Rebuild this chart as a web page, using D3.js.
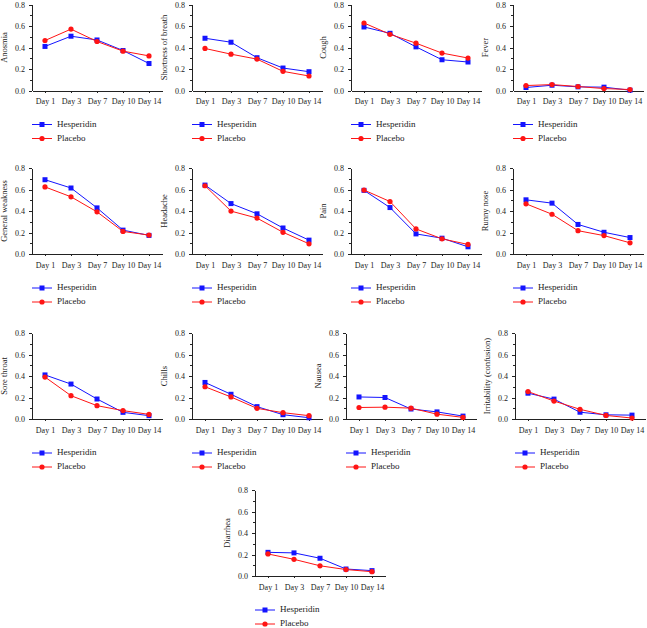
<!DOCTYPE html>
<html>
<head>
<meta charset="utf-8">
<script src="https://cdn.jsdelivr.net/npm/d3@7"></script>
<style>
  html, body { margin: 0; padding: 0; background: #fff; }
  svg, svg text { font-family: "Liberation Serif", "DejaVu Serif", serif; }
  svg { display: block; }
  .axis path, .axis line { stroke: #222; stroke-width: 1; shape-rendering: crispEdges; }
  .axis text { fill: #222; font-size: 8px; font-family: "Liberation Serif", serif; }
</style>
</head>
<body>
<svg id="chart" width="647" height="628"></svg>
<script>
// ---- Data ----
const days = ["Day 1", "Day 3", "Day 7", "Day 10", "Day 14"];
const symptoms = ["Anosmia", "Shortness of breath", "Cough", "Fever",
  "General weakness", "Headache", "Pain", "Runny nose",
  "Sore throat", "Chills", "Nausea", "Irritability (confusion)", "Diarrhea"];
const seriesNames = ["Hesperidin", "Placebo"];
const hesperidin = [
  [0.41, 0.505, 0.47, 0.372, 0.251],
  [0.486, 0.449, 0.305, 0.209, 0.175],
  [0.591, 0.532, 0.406, 0.286, 0.265],
  [0.028, 0.049, 0.034, 0.031, 0.003],
  [0.691, 0.614, 0.429, 0.222, 0.173],
  [0.641, 0.469, 0.374, 0.242, 0.129],
  [0.592, 0.432, 0.187, 0.147, 0.067],
  [0.504, 0.473, 0.275, 0.202, 0.153],
  [0.41, 0.325, 0.186, 0.062, 0.031],
  [0.34, 0.23, 0.115, 0.04, 0.012],
  [0.205, 0.2, 0.093, 0.066, 0.027],
  [0.24, 0.185, 0.063, 0.039, 0.036],
  [0.22, 0.215, 0.165, 0.065, 0.05]
];
const placebo = [
  [0.465, 0.571, 0.456, 0.366, 0.322],
  [0.391, 0.338, 0.292, 0.178, 0.135],
  [0.628, 0.523, 0.44, 0.348, 0.302],
  [0.046, 0.055, 0.037, 0.018, 0.009],
  [0.624, 0.532, 0.392, 0.21, 0.176],
  [0.635, 0.399, 0.334, 0.202, 0.095],
  [0.595, 0.488, 0.233, 0.141, 0.089],
  [0.467, 0.37, 0.217, 0.171, 0.104],
  [0.39, 0.217, 0.124, 0.078, 0.043],
  [0.30, 0.205, 0.099, 0.059, 0.031],
  [0.107, 0.11, 0.101, 0.045, 0.015],
  [0.255, 0.167, 0.09, 0.033, 0.009],
  [0.205, 0.155, 0.095, 0.06, 0.04]
];
const yTicks = [0, 0.2, 0.4, 0.6, 0.8];
const yMinorTicks = [0.1, 0.3, 0.5, 0.7];

// ---- Layout (positions only) ----
const panelPos = [
  [32, 4.5], [192, 4.5], [351, 4.5], [513, 4.5],
  [32, 168], [192, 168], [351, 168], [513, 168],
  [32, 333], [192, 333], [346, 333], [515, 333],
  [255, 490]
];
const plotW = 130, plotH = 86;
const colors = ["#1414ff", "#ff1414"];
const FONT = "Liberation Serif, serif";

const svg = d3.select("#chart");
const x = d3.scalePoint().domain(days).range([0, plotW]).padding(0.5);
const y = d3.scaleLinear().domain([0, 0.8]).range([plotH, 0]);

symptoms.forEach((name, i) => {
  const [px, py] = panelPos[i];
  const g = svg.append("g").attr("transform", `translate(${px},${py})`);

  // y axis (major + minor)
  g.append("g").attr("class", "axis")
    .call(d3.axisLeft(y).tickValues(yTicks).tickFormat(d3.format(".1f")).tickSize(3).tickSizeOuter(0).tickPadding(4))
    .attr("font-family", FONT);
  g.append("g").attr("class", "axis")
    .call(d3.axisLeft(y).tickValues(yMinorTicks).tickFormat("").tickSize(2).tickSizeOuter(0))
    .select(".domain").remove();

  // x axis
  g.append("g").attr("class", "axis")
    .attr("transform", `translate(0,${plotH})`)
    .call(d3.axisBottom(x).tickSize(2).tickSizeOuter(0).tickPadding(6))
    .attr("font-family", FONT);

  // y label
  g.append("text")
    .attr("transform", `translate(-27,${plotH / 2}) rotate(-90)`)
    .attr("text-anchor", "middle")
    .attr("dominant-baseline", "middle")
    .attr("font-family", FONT)
    .attr("font-size", "8.5px")
    .attr("fill", "#222")
    .text(name);

  const seriesData = [hesperidin[i], placebo[i]];
  const line = d3.line().x((d, j) => x(days[j])).y(d => y(d));

  seriesData.forEach((vals, s) => {
    g.append("path")
      .attr("d", line(vals))
      .attr("fill", "none")
      .attr("stroke", colors[s])
      .attr("stroke-width", 1);
    if (s === 0) {
      g.selectAll(null).data(vals).enter().append("rect")
        .attr("x", (d, j) => x(days[j]) - 2.5)
        .attr("y", d => y(d) - 2.5)
        .attr("width", 5).attr("height", 5)
        .attr("fill", colors[s]);
    } else {
      g.selectAll(null).data(vals).enter().append("circle")
        .attr("cx", (d, j) => x(days[j]))
        .attr("cy", d => y(d))
        .attr("r", 2.6)
        .attr("fill", colors[s]);
    }
  });

  // legend
  seriesNames.forEach((sn, s) => {
    const ly = plotH + 34 + s * 14;
    const lg = g.append("g").attr("transform", `translate(0,${ly})`);
    lg.append("line").attr("x1", 0).attr("x2", 20).attr("y1", 0).attr("y2", 0)
      .attr("stroke", colors[s]).attr("stroke-width", 1);
    if (s === 0) {
      lg.append("rect").attr("x", 10 - 2.5).attr("y", -2.5).attr("width", 5).attr("height", 5).attr("fill", colors[s]);
    } else {
      lg.append("circle").attr("cx", 10).attr("cy", 0).attr("r", 2.6).attr("fill", colors[s]);
    }
    lg.append("text").attr("x", 25).attr("y", 0)
      .attr("dominant-baseline", "middle")
      .attr("font-family", FONT)
      .attr("font-size", "9px").attr("fill", "#222")
      .text(sn);
  });
});
</script>
</body>
</html>
